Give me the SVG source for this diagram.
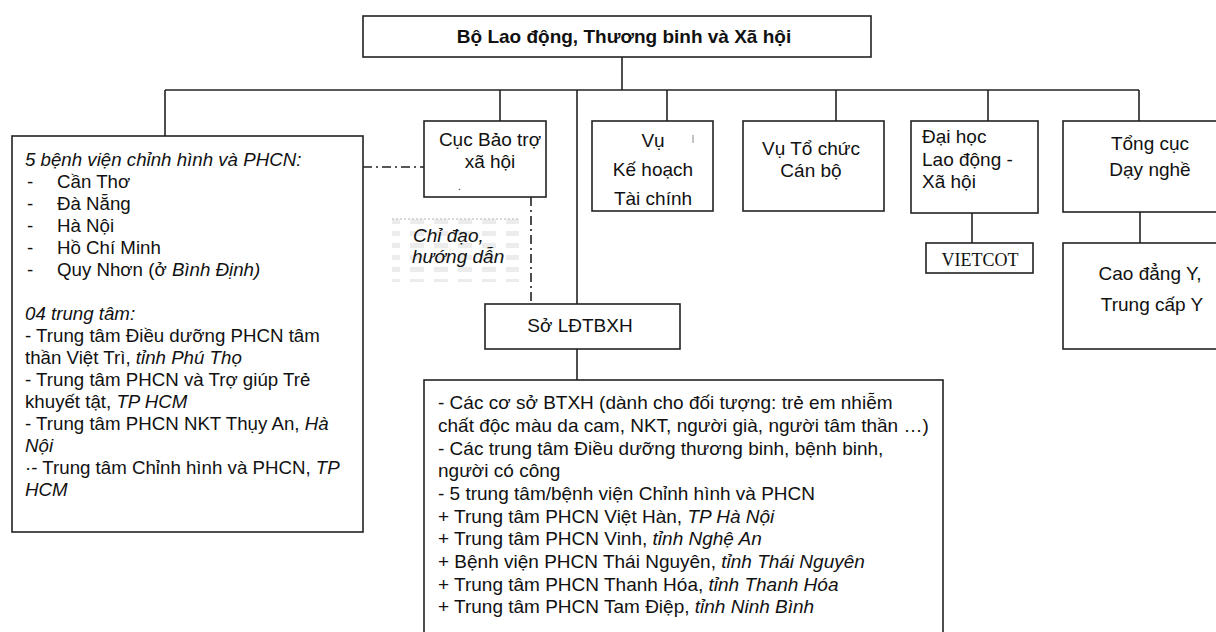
<svg xmlns="http://www.w3.org/2000/svg" width="1216" height="632" viewBox="0 0 1216 632">
<style>
text{font-family:"Liberation Sans",Arial,sans-serif;font-size:19px;fill:#111}
.b{font-weight:bold}
.i{font-style:italic}
.c{text-anchor:middle}
.sm{font-size:18.7px}
.serif{font-family:"Liberation Serif","Times New Roman",serif;font-size:18px}
.box{fill:#fff;stroke:#222;stroke-width:1.6}
.ln{stroke:#222;stroke-width:1.6;fill:none}
.dd{stroke:#222;stroke-width:1.6;fill:none;stroke-dasharray:9 4 2 4}
</style>
<defs>
<pattern id="blur" width="24" height="12" patternUnits="userSpaceOnUse">
<rect x="2" y="3" width="14" height="5" fill="#d9d9d9" opacity="0.5"/>
</pattern>
</defs>
<rect width="1216" height="632" fill="#fff"/>

<g id="connectors">
<line class="ln" x1="622" y1="57" x2="622" y2="90"/>
<line class="ln" x1="165" y1="90" x2="1139" y2="90"/>
<line class="ln" x1="165" y1="90" x2="165" y2="136"/>
<line class="ln" x1="500" y1="90" x2="500" y2="121"/>
<line class="ln" x1="577" y1="90" x2="577" y2="304"/>
<line class="ln" x1="667" y1="90" x2="667" y2="121"/>
<line class="ln" x1="836" y1="90" x2="836" y2="121"/>
<line class="ln" x1="988" y1="90" x2="988" y2="121"/>
<line class="ln" x1="1139" y1="90" x2="1139" y2="121"/>
<line class="ln" x1="972" y1="213" x2="972" y2="243"/>
<line class="ln" x1="1140" y1="212" x2="1140" y2="243"/>
<line class="ln" x1="577" y1="349" x2="577" y2="380"/>
<line class="dd" x1="363" y1="167" x2="424" y2="167"/>
<line class="dd" x1="531" y1="197" x2="531" y2="304"/>
</g>

<g id="n-bo">
<rect class="box" x="363" y="16" width="508" height="41"/>
<text class="b c" x="624" y="43">Bộ Lao động, Thương binh và Xã hội</text>
</g>

<g id="n-left" class="sm">
<rect class="box" x="12" y="136" width="351" height="396"/>
<text class="i sm" x="25" y="166">5 bệnh viện chỉnh hình và PHCN:</text>
<text class="sm" x="27" y="188">-</text><text class="sm" x="57" y="188">Cần Thơ</text>
<text class="sm" x="27" y="210">-</text><text class="sm" x="57" y="210">Đà Nẵng</text>
<text class="sm" x="27" y="232">-</text><text class="sm" x="57" y="232">Hà Nội</text>
<text class="sm" x="27" y="254">-</text><text class="sm" x="57" y="254">Hồ Chí Minh</text>
<text class="sm" x="27" y="276">-</text><text class="sm" x="57" y="276">Quy Nhơn (ở <tspan class="i">Bình Định)</tspan></text>
<text class="i sm" x="25" y="320">04 trung tâm:</text>
<text class="sm" x="25" y="342">- Trung tâm Điều dưỡng PHCN tâm</text>
<text class="sm" x="25" y="364">thần Việt Trì, <tspan class="i">tỉnh Phú Thọ</tspan></text>
<text class="sm" x="25" y="386">- Trung tâm PHCN và Trợ giúp Trẻ</text>
<text class="sm" x="25" y="408">khuyết tật, <tspan class="i">TP HCM</tspan></text>
<text class="sm" x="25" y="430">- Trung tâm PHCN NKT Thụy An, <tspan class="i">Hà</tspan></text>
<text class="i sm" x="25" y="452">Nội</text>
<text class="sm" x="25" y="474">·- Trung tâm Chỉnh hình và PHCN, <tspan class="i">TP</tspan></text>
<text class="i sm" x="25" y="496">HCM</text>
</g>

<g id="n-cuc">
<rect class="box" x="424" y="121" width="122" height="76"/>
<text class="c" x="490" y="146">Cục Bảo trợ</text>
<text class="c" x="490" y="168">xã hội</text>
<text x="458" y="190" style="font-size:10px">.</text>
</g>

<g id="n-chidao">
<rect x="392" y="218" width="127" height="64" fill="url(#blur)"/>
<line x1="392" y1="219" x2="519" y2="219" stroke="#ccc" stroke-width="1.5" stroke-dasharray="2 2"/>
<text class="i" x="413" y="242">Chỉ đạo,</text>
<text class="i" x="412" y="263">hướng dẫn</text>
</g>

<g id="n-vukh">
<rect class="box" x="592" y="121" width="121" height="90"/>
<text class="c" x="653" y="147">Vụ</text>
<text class="c" x="653" y="176">Kế hoạch</text>
<text class="c" x="653" y="205">Tài chính</text>
<line x1="693" y1="135" x2="693" y2="143" stroke="#888" stroke-width="1"/>
</g>

<g id="n-vutc">
<rect class="box" x="743" y="121" width="141" height="90"/>
<text class="c" x="811" y="155">Vụ Tổ chức</text>
<text class="c" x="811" y="177">Cán bộ</text>
</g>

<g id="n-daihoc">
<rect class="box" x="911" y="121" width="127" height="92"/>
<text x="922" y="143">Đại học</text>
<text x="922" y="166">Lao động -</text>
<text x="922" y="188">Xã hội</text>
</g>

<g id="n-vietcot">
<rect class="box" x="926" y="243" width="107" height="30"/>
<text class="serif c" x="980" y="266">VIETCOT</text>
</g>

<g id="n-tongcuc">
<rect class="box" x="1063" y="121" width="180" height="91"/>
<text class="c" x="1150" y="150">Tổng cục</text>
<text class="c" x="1150" y="176">Dạy nghề</text>
</g>

<g id="n-caodang">
<rect class="box" x="1063" y="243" width="180" height="106"/>
<text class="c" x="1150" y="280">Cao đẳng Y,</text>
<text class="c" x="1152" y="311">Trung cấp Y</text>
</g>

<g id="n-so">
<rect class="box" x="485" y="304" width="195" height="45"/>
<text class="c" x="580" y="332">Sở LĐTBXH</text>
</g>

<g id="n-bottom">
<rect class="box" x="424" y="380" width="519" height="270"/>
<text x="438" y="409">- Các cơ sở BTXH (dành cho đối tượng: trẻ em nhiễm</text>
<text x="438" y="432">chất độc màu da cam, NKT, người già, người tâm thần …)</text>
<text x="438" y="455">- Các trung tâm Điều dưỡng thương binh, bệnh binh,</text>
<text x="438" y="477">người có công</text>
<text x="438" y="500">- 5 trung tâm/bệnh viện Chỉnh hình và PHCN</text>
<text x="438" y="523">+ Trung tâm PHCN Việt Hàn, <tspan class="i">TP Hà Nội</tspan></text>
<text x="438" y="545">+ Trung tâm PHCN Vinh, <tspan class="i">tỉnh Nghệ An</tspan></text>
<text x="438" y="568">+ Bệnh viện PHCN Thái Nguyên, <tspan class="i">tỉnh Thái Nguyên</tspan></text>
<text x="438" y="591">+ Trung tâm PHCN Thanh Hóa, <tspan class="i">tỉnh Thanh Hóa</tspan></text>
<text x="438" y="613">+ Trung tâm PHCN Tam Điệp, <tspan class="i">tỉnh Ninh Bình</tspan></text>
</g>
</svg>
